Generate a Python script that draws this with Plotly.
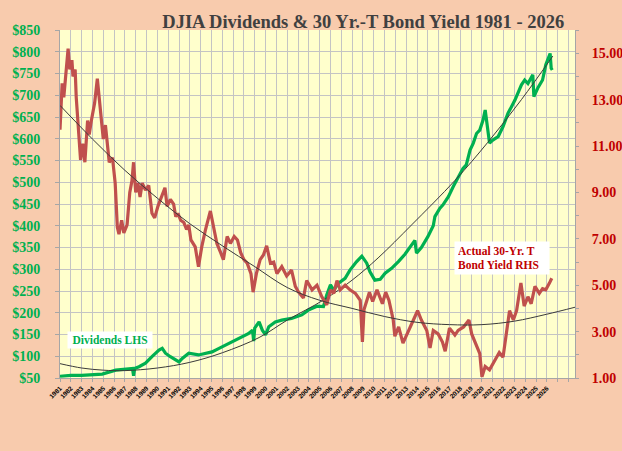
import plotly.graph_objects as go

# ------------------------
# Data
# ------------------------
div_years = [1981.0, 1982.0, 1983.0, 1983.7, 1984.9, 1986.15, 1987.0, 1987.7, 1987.8, 1987.9,
             1988.3, 1988.9, 1989.5, 1990.15, 1990.45, 1990.75, 1991.2, 1991.7, 1992.0, 1992.3,
             1992.9, 1993.8, 1994.45, 1995.05, 1995.7, 1996.3, 1996.9, 1997.2, 1997.8, 1998.4,
             1998.8, 1998.9, 1999.0, 1999.4, 1999.7, 2000.0, 2000.3, 2000.9, 2001.5, 2002.4,
             2003.35, 2003.95, 2004.75, 2005.35, 2005.65, 2006.0, 2006.3, 2006.75, 2007.35, 2007.8,
             2008.4, 2008.9, 2009.35, 2009.65, 2010.1, 2010.6, 2011.05, 2011.65, 2012.3, 2012.9,
             2013.5, 2013.8, 2013.95, 2014.4, 2015.0, 2015.5, 2015.65, 2016.1, 2016.4, 2016.9,
             2017.35, 2017.8, 2018.25, 2018.55, 2018.9, 2019.2, 2019.5, 2019.8, 2020.1, 2020.3,
             2020.5, 2020.7, 2021.0, 2021.5, 2021.95, 2022.4, 2023.05, 2023.65, 2023.95, 2024.25,
             2024.7, 2024.8, 2025.15, 2025.6, 2025.9, 2026.05, 2026.3, 2026.4, 2026.5]
dividends = [54, 56, 56, 57, 59, 68, 70, 72, 55, 72,
             76, 84, 99, 114, 118, 107, 99, 91, 87, 95,
             107, 103, 107, 110, 118, 126, 133, 137, 145, 152,
             160, 135, 165, 179, 160, 149, 168, 179, 183, 187,
             195, 206, 215, 214, 241, 264, 252, 268, 279, 298,
             317, 330, 314, 294, 275, 277, 291, 302, 318, 335,
             356, 366, 337, 350, 375, 400, 421, 440, 448, 467,
             490, 513, 532, 540, 574, 590, 612, 620, 643, 666,
             620, 590, 597, 605, 628, 658, 689, 724, 735, 727,
             747, 697, 716, 735, 770, 781, 796, 762, 758]

bond_years = [1981.0, 1981.1, 1981.2, 1981.35, 1981.6, 1981.75, 1981.9, 1982.1, 1982.2, 1982.4,
              1982.5, 1982.7, 1982.9, 1983.1, 1983.3, 1983.55, 1983.7, 1983.9, 1984.2, 1984.45,
              1984.6, 1984.85, 1985.0, 1985.2, 1985.35, 1985.55, 1985.85, 1986.1, 1986.3, 1986.45,
              1986.7, 1986.9, 1987.2, 1987.45, 1987.65, 1987.8, 1988.0, 1988.2, 1988.4, 1988.6,
              1988.9, 1989.2, 1989.5, 1989.75, 1990.05, 1990.45, 1990.7, 1990.9, 1991.2, 1991.5,
              1991.7, 1991.9, 1992.15, 1992.45, 1992.7, 1992.9, 1993.1, 1993.5, 1993.8, 1994.1,
              1994.45, 1994.9, 1995.2, 1995.5, 1995.85, 1996.1, 1996.45, 1996.75, 1997.1, 1997.4,
              1997.7, 1998.0, 1998.3, 1998.65, 1998.85, 1999.15, 1999.5, 1999.8, 2000.1, 2000.45,
              2000.75, 2001.05, 2001.5, 2001.95, 2002.4, 2002.75, 2003.05, 2003.5, 2003.8, 2004.3,
              2004.75, 2005.2, 2005.65, 2006.0, 2006.3, 2006.6, 2006.9, 2007.35, 2007.8, 2008.3,
              2008.75, 2008.95, 2009.1, 2009.6, 2009.9, 2010.3, 2010.8, 2011.1, 2011.4, 2011.8,
              2011.95, 2012.3, 2012.7, 2013.2, 2013.65, 2014.05, 2014.4, 2014.9, 2015.2, 2015.5,
              2015.95, 2016.35, 2016.6, 2017.0, 2017.5, 2017.8, 2018.3, 2018.8, 2019.05, 2019.5,
              2019.8, 2020.0, 2020.3, 2020.7, 2021.2, 2021.6, 2021.95, 2022.25, 2022.55, 2022.9,
              2023.2, 2023.6, 2023.9, 2024.25, 2024.55, 2024.9, 2025.3, 2025.6, 2025.9, 2026.25,
              2026.45]
bond_yield = [11.7, 13.2, 13.7, 13.1, 14.3, 15.2, 14.3, 14.7, 14.0, 14.3,
              13.1, 11.6, 10.4, 11.1, 10.3, 12.1, 11.5, 12.1, 12.85, 13.9,
              13.1, 12.1, 11.3, 11.9, 11.3, 10.3, 10.5, 9.4, 7.5, 7.2,
              7.8, 7.25, 7.6, 9.0, 9.5, 10.3, 9.0, 9.4, 8.8, 9.4,
              9.1, 9.3, 8.1, 7.9, 8.4, 8.9, 9.2, 8.4, 8.7, 8.5,
              7.95, 8.1, 7.8, 7.7, 7.4, 7.6, 6.95, 6.65, 5.8, 6.65,
              7.4, 8.2, 7.5, 6.8, 6.4, 6.1, 7.1, 6.8, 7.1, 6.95,
              6.4, 6.1, 5.95, 5.5, 4.7, 5.5, 6.1, 6.3, 6.7, 5.95,
              6.0, 5.5, 5.8, 5.4, 5.65, 4.95, 4.7, 4.45, 5.2, 4.8,
              5.0, 4.5, 4.15, 4.8, 4.65, 5.2, 4.8, 5.0, 4.8, 4.65,
              4.35, 2.55, 3.95, 4.7, 4.3, 4.8, 4.2, 4.7, 4.35, 3.5,
              2.8, 3.2, 2.5, 3.05, 3.5, 3.9, 3.5, 3.05, 2.3, 3.05,
              2.9, 2.55, 2.15, 3.15, 2.85, 3.05, 3.2, 3.5, 2.9, 2.35,
              2.05, 1.05, 1.5, 1.35, 1.8, 2.1, 1.9, 2.9, 3.9, 3.5,
              3.9, 5.1, 4.1, 4.5, 4.2, 4.95, 4.65, 4.85, 4.8, 5.1,
              5.3]

# trend lines as drawn on the chart
div_trend_years = [1981, 1983, 1985, 1987, 1990, 1993, 1996, 1999.4, 2002, 2005.4,
                   2008, 2010.4, 2013.5, 2017.5, 2020.55, 2023.65, 2026.55]
div_trend = [83, 73, 68, 67, 73, 86, 108, 143, 183, 230,
             275, 326, 402, 504, 592, 690, 790]

bond_trend_years = [1981, 1984, 1987, 1990, 1993, 1996, 1999, 2002, 2005, 2008,
                    2011, 2014, 2017, 2020, 2023, 2026, 2028.6]
bond_trend = [12.75, 11.3, 9.95, 8.75, 7.65, 6.7, 5.8, 4.9, 4.35, 4.0,
              3.65, 3.4, 3.3, 3.3, 3.45, 3.75, 4.05]

year_ticks = list(range(1981, 2029))
year_labels = [str(y) if y <= 2026 else "" for y in year_ticks]
yield_ticks = list(range(1, 17))
yield_labels = [f"{v:.2f}" if v % 2 == 1 else "" for v in yield_ticks]

GREEN = "#00B050"
RED = "#C0504D"
DARK_RED = "#C00000"
GRID = "#C4C4C4"
AXIS = "#A6A6A6"
SERIF = "Liberation Serif"

fig = go.Figure()

fig.add_trace(go.Scatter(x=bond_years, y=bond_yield, yaxis="y2", mode="lines",
                         line=dict(color=RED, width=3.2), name="30-Yr T Bond Yield"))
fig.add_trace(go.Scatter(x=div_years, y=dividends, mode="lines",
                         line=dict(color=GREEN, width=3.2), name="Dividends"))
fig.add_trace(go.Scatter(x=div_trend_years, y=div_trend, mode="lines",
                         line=dict(color="#3A3A3A", width=1, shape="spline"), name="Dividend trend"))
fig.add_trace(go.Scatter(x=bond_trend_years, y=bond_trend, yaxis="y2", mode="lines",
                         line=dict(color="#3A3A3A", width=1, shape="spline"), name="Yield trend"))

fig.update_layout(
    width=622, height=451,
    margin=dict(l=60, r=47, t=30, b=73, autoexpand=False),
    paper_bgcolor="#F8CBAD",
    plot_bgcolor="#FFFFCC",
    showlegend=False,
    hovermode=False,
    title=dict(text="DJIA Dividends & 30 Yr.-T Bond Yield 1981 - 2026",
               font=dict(family=SERIF, size=18.5, color="#404040", weight="bold"),
               xref="container", x=0.584, xanchor="center",
               yref="container", y=0.953, yanchor="middle"),
    xaxis=dict(range=[1981, 2028.6], tickvals=year_ticks, ticktext=year_labels,
               tickangle=-45, tickfont=dict(family="Liberation Sans", size=6.5, color="black", weight="bold"),
               showgrid=True, gridcolor=GRID, gridwidth=1, automargin=False,
               showline=True, linecolor=AXIS, ticks="outside", ticklen=3, tickcolor=AXIS,
               zeroline=False),
    yaxis=dict(range=[50, 850], dtick=50, tick0=50, tickprefix="$",
               tickfont=dict(family=SERIF, size=14, color=GREEN, weight="bold"),
               showgrid=True, gridcolor=GRID, gridwidth=1, automargin=False,
               showline=True, linecolor=AXIS, ticks="outside", ticklen=4, tickcolor=AXIS,
               ticklabelstandoff=12, zeroline=False),
    yaxis2=dict(range=[1, 16], overlaying="y", side="right",
                tickvals=yield_ticks, ticktext=yield_labels,
                tickfont=dict(family=SERIF, size=14, color=DARK_RED, weight="bold"),
                showgrid=False, showline=True, linecolor=AXIS, automargin=False,
                ticks="outside", ticklen=3, tickcolor=AXIS,
                ticklabelstandoff=10, zeroline=False),
)

fig.add_annotation(text="Dividends LHS", xref="paper", yref="paper",
                   x=0.0967, y=0.109, xanchor="center", yanchor="middle", showarrow=False,
                   font=dict(family=SERIF, size=11.5, color=GREEN, weight="bold"),
                   bgcolor="white", width=80, height=12, borderpad=2)
fig.add_annotation(text="Actual 30-Yr. T<br>Bond Yield RHS", xref="paper", yref="paper",
                   x=0.859, y=0.345, xanchor="center", yanchor="middle", showarrow=False, align="left",
                   font=dict(family=SERIF, size=11.5, color=DARK_RED, weight="bold"),
                   bgcolor="white", width=88, height=26, borderpad=3)

# page has a default body margin; remove it so the figure sits at the window origin
fig.write_html("out.html", config={"displayModeBar": False},
               post_script="document.body.style.margin='0';")
